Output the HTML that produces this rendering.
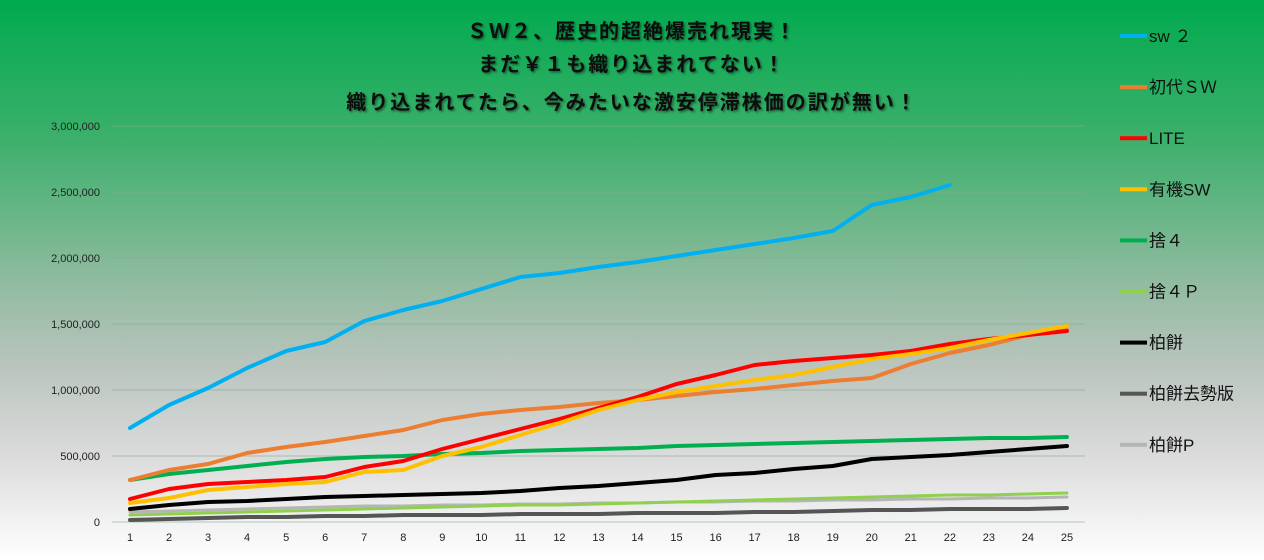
<!DOCTYPE html>
<html><head><meta charset="utf-8"><style>
html,body{margin:0;padding:0}
body{width:1264px;height:560px;overflow:hidden;background:linear-gradient(180deg,#00aa4e 0%,#3db06c 25%,#8fbb9f 50%,#b9c4bd 65%,#dcdcdc 82%,#ffffff 100%);font-family:"Liberation Sans","Noto Sans CJK JP",sans-serif}
</style></head><body>
<svg width="1264" height="560" xmlns="http://www.w3.org/2000/svg" style="position:absolute;left:0;top:0">
<defs><filter id="sh"><feDropShadow dx="1.5" dy="1.5" stdDeviation="1" flood-color="#000" flood-opacity="0.45"/></filter></defs>
<g font-family="Liberation Sans,Noto Sans CJK JP,sans-serif" font-weight="bold" font-size="20" letter-spacing="2" fill="#111" text-anchor="middle" filter="url(#sh)">
<text x="632" y="38">ＳＷ２、歴史的超絶爆売れ現実！</text>
<text x="632" y="71">まだ￥１も織り込まれてない！</text>
<text x="632" y="109">織り込まれてたら、今みたいな激安停滞株価の訳が無い！</text>
</g>
<g stroke="#8aa896" stroke-width="1" opacity="0.6">
<line x1="112" x2="1085" y1="126" y2="126"/><line x1="112" x2="1085" y1="192" y2="192"/><line x1="112" x2="1085" y1="258" y2="258"/><line x1="112" x2="1085" y1="324" y2="324"/><line x1="112" x2="1085" y1="390" y2="390"/><line x1="112" x2="1085" y1="456" y2="456"/><line x1="112" x2="1085" y1="522" y2="522"/>
</g>
<g font-size="11" fill="#222" text-anchor="end">
<text x="100" y="130">3,000,000</text><text x="100" y="196">2,500,000</text><text x="100" y="262">2,000,000</text><text x="100" y="328">1,500,000</text><text x="100" y="394">1,000,000</text><text x="100" y="460">500,000</text><text x="100" y="526">0</text>
</g>
<g font-size="11" fill="#222" text-anchor="middle" id="xl"></g>
<g fill="none" stroke-width="4" stroke-linejoin="round" stroke-linecap="round" id="ser"></g>
<g font-size="17" fill="#111" id="leg"></g>
</svg>
<script>
var X=function(i){return 130+i*39.04};
var xl=document.getElementById('xl'),s='';
for(var i=0;i<25;i++)s+='<text x="'+X(i)+'" y="541">'+(i+1)+'</text>';
xl.innerHTML=s;
var D=[
['#b5b5b5',3,[512,511,510,509,508,507,506,506,505,505,504,504,503,503,502,502,501,501,500,500,499,499,498,498,497]],
['#555555',4,[520,519,518,517,517,516,516,515,515,515,514,514,514,513,513,513,512,512,511,510,510,509,509,509,508]],
['#8fd14f',3,[515,514,513,512,511,510,509,508,507,506,505,505,504,503,502,501,500,499,498,497,496,495,495,494,493]],
['#000000',4,[509,505,502,501,499,497,496,495,494,493,491,488,486,483,480,475,473,469,466,459,457,455,452,449,446]],
['#00b050',4,[480,474,470,466,462,459,457,456,454,453,451,450,449,448,446,445,444,443,442,441,440,439,438,438,437]],
['#ed7d31',4,[480,470,464,453,447,442,436,430,420,414,410,407,403,400,396,392,389,385,381,378,364,353,345,335,330]],
['#ff0000',4,[499,489,484,482,480,477,467,461,449,439,429,419,408,397,384,375,365,361,358,355,351,344,339,335,331]],
['#ffc000',4,[503,498,490,487,484,482,472,470,456,447,435,423,410,400,392,386,380,375,367,359,354,348,340,333,326]],
['#00b0f0',4,[428,405,388,368,351,342,321,310,301,289,277,273,267,262,256,250,244,238,231,205,197,185]]
];
var h='';
D.forEach(function(d){h+='<polyline stroke="'+d[0]+'" stroke-width="'+d[1]+'" points="'+d[2].map(function(y,i){return X(i)+','+y}).join(' ')+'"/>'});
document.getElementById('ser').innerHTML=h;
var L=[['#00b0f0','sw ２'],['#ed7d31','初代ＳＷ'],['#ff0000','LITE'],['#ffc000','有機SW'],['#00b050','捨４'],['#8fd14f','捨４Ｐ'],['#000000','柏餅'],['#555555','柏餅去勢版'],['#b5b5b5','柏餅P']];
var g='';
L.forEach(function(l,i){var y=36+i*51.1;g+='<rect x="1120" y="'+(y-2)+'" width="27" height="4" fill="'+l[0]+'"/><text x="1149" y="'+(y+6)+'">'+l[1]+'</text>'});
document.getElementById('leg').innerHTML=g;
</script>
</body></html>
